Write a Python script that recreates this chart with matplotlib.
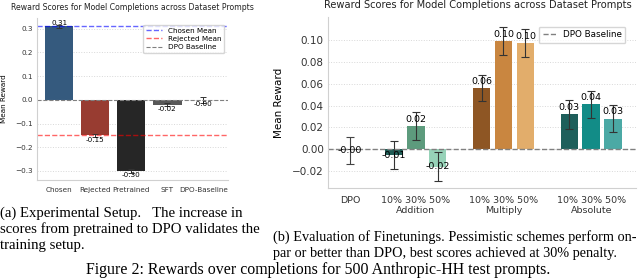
import matplotlib
matplotlib.use("Agg")
import matplotlib.pyplot as plt
import numpy as np

# panel (a)
SETUP_LABELS = ["Chosen", "Rejected", "Pretrained", "SFT", "DPO-Baseline"]
SETUP_MEANS = [0.31, -0.15, -0.30, -0.02, -0.001]
SETUP_ERRS = [0.006, 0.008, 0.008, 0.007, 0.012]
SETUP_COLORS = ["#355a7e", "#983c31", "#262626", "#585858", "#ffffff"]
CHOSEN_MEAN = 0.31
REJECTED_MEAN = -0.15

# panel (b)
GROUPS = ["Addition", "Multiply", "Absolute"]
PENALTIES = ["10%", "30%", "50%"]
DPO_MEAN = -0.001
DPO_ERR = 0.0125
GROUP_MEANS = {
    "Addition": [-0.0055, 0.021, -0.016],
    "Multiply": [0.056, 0.099, 0.097],
    "Absolute": [0.032, 0.041, 0.028],
}
GROUP_ERRS = {
    "Addition": [0.013, 0.013, 0.013],
    "Multiply": [0.012, 0.0125, 0.0128],
    "Absolute": [0.0133, 0.0125, 0.0122],
}
GROUP_COLORS = {
    "Addition": ["#1f5c55", "#5d9b7d", "#97d2b8"],
    "Multiply": ["#8e5624", "#c98640", "#e2ad6b"],
    "Absolute": ["#1e5f5b", "#128c87", "#4ba9a5"],
}

TITLE = "Reward Scores for Model Completions across Dataset Prompts"

plt.rcParams["font.family"] = "DejaVu Sans"
fig = plt.figure(figsize=(6.4, 2.79), dpi=100)
W, H = 640, 279


def box(x0, y0, x1, y1):
    return [x0 / W, 1 - y1 / H, (x1 - x0) / W, (y1 - y0) / H]


def style(ax):
    for s in ["top", "right"]:
        ax.spines[s].set_visible(False)
    for s in ["left", "bottom"]:
        ax.spines[s].set_color("#d0d0d0")
        ax.spines[s].set_linewidth(0.8)
    ax.tick_params(length=0, colors="#333333")
    ax.grid(axis="y", linestyle=":", color="#d8d8d8", linewidth=0.7)
    ax.set_axisbelow(True)


# ---- panel (a)
ax1 = fig.add_axes(box(37, 18, 228, 180))
style(ax1)
x = np.arange(len(SETUP_LABELS))
ax1.bar(x, SETUP_MEANS, width=0.78, color=SETUP_COLORS,
        yerr=SETUP_ERRS, capsize=2.5,
        error_kw=dict(ecolor="#333333", elinewidth=0.7, capthick=0.7))
for xi, v in zip(x, SETUP_MEANS):
    ax1.text(xi, v + (0.003 if v > 0 else -0.005), f"{v:.2f}",
             ha="center", va="bottom" if v > 0 else "top", fontsize=5.2)
ax1.axhline(CHOSEN_MEAN, color="blue", alpha=0.6, ls="--", lw=1.0, label="Chosen Mean")
ax1.axhline(REJECTED_MEAN, color="red", alpha=0.6, ls="--", lw=1.0, label="Rejected Mean")
ax1.axhline(0, color="gray", ls="--", lw=0.8, label="DPO Baseline")
ax1.set_xlim(-0.62, 4.68)
ax1.set_ylim(-0.338, 0.345)
ax1.set_yticks([-0.3, -0.2, -0.1, 0.0, 0.1, 0.2, 0.3])
ax1.set_xticks(x)
ax1.set_xticklabels(SETUP_LABELS, fontsize=5.2)
ax1.tick_params(axis="y", labelsize=5.2, pad=3)
ax1.tick_params(axis="x", pad=5)
ax1.set_ylabel("Mean Reward", fontsize=5.2, labelpad=6)
fig.text(132 / W, 1 - 8 / H, TITLE, fontsize=5.6, ha="center", va="center",
         color="#222222")
ax1.legend(loc="upper right", fontsize=5.2, frameon=True, handlelength=2.2,
           borderpad=0.4, labelspacing=0.3, bbox_to_anchor=(1.0, 0.98))

# ---- panel (b)
ax2 = fig.add_axes(box(328, 17, 636, 188))
style(ax2)
bw = 0.2
ax2.bar(0.25, DPO_MEAN, width=bw, color="#3a3a3a", yerr=DPO_ERR, capsize=3,
        error_kw=dict(ecolor="#444444", elinewidth=0.8, capthick=0.8))
ax2.text(0.25, DPO_MEAN, f"{DPO_MEAN:.2f}", ha="center", va="center", fontsize=6.8)
for gi, g in enumerate(GROUPS):
    centers = gi + 1 + np.array([-0.25, 0.0, 0.25])
    ax2.bar(centers, GROUP_MEANS[g], width=bw, color=GROUP_COLORS[g],
            yerr=GROUP_ERRS[g], capsize=3,
            error_kw=dict(ecolor="#333333", elinewidth=0.8, capthick=0.8))
    for c, v in zip(centers, GROUP_MEANS[g]):
        if v > 0:
            ax2.text(c, v + 0.002, f"{v:.2f}", ha="center", va="bottom", fontsize=6.8)
        else:
            ax2.text(c, v, f"{v:.2f}", ha="center", va="center", fontsize=6.8)
ax2.axhline(0, color="gray", ls="--", lw=1.0, label="DPO Baseline")
ax2.set_xlim(0, 3.51)
ax2.set_ylim(-0.0355, 0.121)
ax2.set_yticks([-0.02, 0.0, 0.02, 0.04, 0.06, 0.08, 0.10])
ax2.set_xticks([0.25, 1, 2, 3])
ax2.set_xticklabels(["DPO"] + [" ".join(PENALTIES) + "\n" + g for g in GROUPS],
                    fontsize=6.8, linespacing=1.1)
ax2.tick_params(axis="y", labelsize=7.5, pad=3)
ax2.tick_params(axis="x", pad=6)
ax2.set_ylabel("Mean Reward", fontsize=7.5, labelpad=6)
fig.text(478 / W, 1 - 5 / H, TITLE, fontsize=7.1, ha="center", va="center",
         color="#222222")
ax2.legend(loc="upper right", fontsize=6.3, frameon=True, handlelength=1.6,
           borderpad=0.45, handletextpad=0.7, bbox_to_anchor=(0.98, 0.97))

# ---- captions
cap = dict(family="Liberation Serif", fontsize=10.6, color="black", va="center")
fig.text(0 / W, 1 - 213 / H, "(a) Experimental Setup.   The increase in", **cap)
fig.text(0 / W, 1 - 229 / H, "scores from pretrained to DPO validates the", **cap)
fig.text(0 / W, 1 - 245 / H, "training setup.", **cap)
capb = dict(cap, fontsize=10.3)
fig.text(273 / W, 1 - 237 / H,
         "(b) Evaluation of Finetunings. Pessimistic schemes perform on-", **capb)
fig.text(273 / W, 1 - 253 / H,
         "par or better than DPO, best scores achieved at 30% penalty.", **capb)
fig.text(318 / W, 1 - 270 / H,
         "Figure 2: Rewards over completions for 500 Anthropic-HH test prompts.",
         ha="center", family="Liberation Serif", fontsize=11.4, va="center")

fig.savefig("out.png", dpi=100)
